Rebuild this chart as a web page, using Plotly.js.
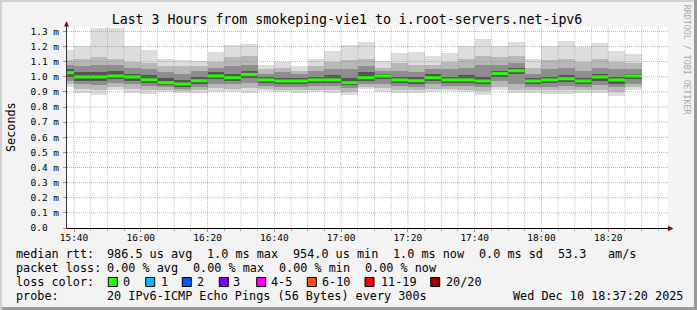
<!DOCTYPE html>
<html><head><meta charset="utf-8">
<script src="https://cdn.plot.ly/plotly-3.0.1.min.js"></script>
<style>html,body{margin:0;padding:0;background:#f3f3f3;}#chart{width:697px;height:310px;}</style>
</head><body><div id="chart"></div>
<script>
// ---- data ----
const DAY = '2025-12-10';
const times = ['15:40','15:45','15:50','15:55','16:00','16:05','16:10','16:15','16:20','16:25','16:30','16:35',
  '16:40','16:45','16:50','16:55','17:00','17:05','17:10','17:15','17:20','17:25','17:30','17:35',
  '17:40','17:45','17:50','17:55','18:00','18:05','18:10','18:15','18:20','18:25','18:30'];
const median = [1.027,0.999,0.999,1.005,0.999,0.980,0.961,0.952,0.974,1.005,0.994,1.016,
  0.979,0.972,0.972,0.979,0.979,0.961,0.994,1.005,0.979,0.974,0.994,0.979,
  0.979,0.972,1.021,1.040,0.972,0.979,0.987,0.972,0.999,0.979,1.005];
const pMax = [1.18,1.206,1.32,1.32,1.206,1.177,1.118,1.111,1.104,1.166,1.21,1.217,
  1.078,1.10,1.07,1.115,1.17,1.21,1.232,1.104,1.155,1.162,1.138,1.16,
  1.204,1.25,1.206,1.232,1.118,1.204,1.239,1.2,1.221,1.17,1.15];
const p90 = [1.11,1.12,1.13,1.12,1.10,1.09,1.07,1.07,1.07,1.10,1.13,1.14,
  1.05,1.06,1.04,1.07,1.10,1.11,1.12,1.06,1.09,1.08,1.08,1.10,
  1.12,1.14,1.13,1.14,1.06,1.11,1.12,1.10,1.12,1.10,1.09];
const p75 = [1.08,1.07,1.08,1.08,1.06,1.05,1.03,1.02,1.04,1.06,1.07,1.08,
  1.02,1.03,1.02,1.04,1.05,1.05,1.07,1.04,1.04,1.03,1.05,1.05,
  1.06,1.08,1.08,1.09,1.02,1.05,1.06,1.04,1.06,1.05,1.05];
const p60 = [1.05,1.03,1.03,1.04,1.02,1.01,0.99,0.98,1.00,1.03,1.02,1.04,
  1.00,0.99,0.99,1.00,1.01,0.99,1.03,1.02,1.00,1.00,1.02,1.00,
  1.01,1.00,1.04,1.06,0.99,1.00,1.01,0.99,1.02,1.00,1.02];
const p40 = [1.00,0.975,0.97,0.985,0.975,0.96,0.945,0.935,0.955,0.985,0.97,0.995,
  0.96,0.955,0.955,0.96,0.96,0.945,0.975,0.985,0.96,0.955,0.975,0.96,
  0.96,0.95,1.00,1.015,0.955,0.96,0.965,0.955,0.975,0.955,0.985];
const p25 = [0.975,0.95,0.945,0.96,0.95,0.94,0.93,0.92,0.935,0.955,0.95,0.96,
  0.94,0.935,0.935,0.94,0.94,0.925,0.955,0.955,0.94,0.935,0.95,0.94,
  0.94,0.93,0.97,0.955,0.935,0.935,0.94,0.935,0.945,0.93,0.955];
const p10 = [0.95,0.92,0.91,0.93,0.92,0.91,0.915,0.905,0.91,0.925,0.92,0.925,
  0.92,0.915,0.915,0.915,0.915,0.90,0.935,0.925,0.915,0.91,0.92,0.92,
  0.915,0.905,0.935,0.915,0.915,0.91,0.91,0.91,0.915,0.90,0.93];
const pMin = [0.93,0.895,0.88,0.91,0.89,0.884,0.90,0.89,0.89,0.90,0.90,0.895,
  0.905,0.90,0.895,0.90,0.895,0.88,0.917,0.90,0.895,0.89,0.90,0.905,
  0.90,0.88,0.91,0.89,0.895,0.885,0.885,0.89,0.89,0.873,0.913];

const xTickText = ['15:40','16:00','16:20','16:40','17:00','17:20','17:40','18:00','18:20'];
const yTickVals = [0,0.1,0.2,0.3,0.4,0.5,0.6,0.7,0.8,0.9,1.0,1.1,1.2,1.3];
const yTickText = ['0.0\u00a0\u00a0','0.1 m','0.2 m','0.3 m','0.4 m','0.5 m','0.6 m','0.7 m','0.8 m','0.9 m','1.0 m','1.1 m','1.2 m','1.3 m'];

const lossLabels = ['0','1','2','3','4-5','6-10','11-19','20/20'];
const lossColors = ['#26ff00','#00b8ff','#0059ff','#7e00ff','#ff00ff','#ff5500','#ff0000','#a10000'];

// ---- build ----
const STEP = 300000;
const toMs = t => Date.parse(DAY + 'T' + t + ':00Z');
const tMs = times.map(toMs);
const centers = tMs.map(t => t - STEP/2);

const layerDefs = [
  {lo:pMin, hi:pMax, color:'#dddddd'},
  {lo:p10, hi:p90, color:'#b8b8b8'},
  {lo:p25, hi:p75, color:'#8e8e8e'},
  {lo:p40, hi:p60, color:'#555555'}
];
const traces = layerDefs.map(l => ({
  type:'bar', x:centers, base:l.lo, y:l.hi.map((h,i)=>h-l.lo[i]),
  width:tMs.map(()=>STEP), marker:{color:l.color, line:{width:0}}, hoverinfo:'skip'
}));
const mx=[], my=[];
tMs.forEach((t,i)=>{ mx.push(t-STEP, t, null); my.push(median[i], median[i], null); });
traces.push({type:'scatter', mode:'lines', x:mx, y:my, line:{color:lossColors[0], width:3}, hoverinfo:'skip', connectgaps:false});

// ---- geometry ----
const W=697, H=310, L=67, R=668, T=27, B=228;
const pw=R-L, ph=B-T;
const px = x => (x-L)/pw;
const py = y => (B-y)/ph;
const xStart = toMs('15:37') + 54000;
const xEnd = xStart + 3*3600000;
const xTickVals = xTickText.map(toMs);

const shapes = [];
const gridMajor = 'rgba(235,90,90,0.6)', gridMinor = 'rgba(140,140,140,0.5)';
yTickVals.filter(v=>v>0).forEach(v=>shapes.push({type:'line',xref:'paper',yref:'y',x0:0,x1:1,y0:v,y1:v,line:{color:gridMajor,width:1,dash:'1px,1px'},layer:'above'}));
for (let t=toMs('15:40'); t<xEnd; t+=STEP){
  const major = xTickVals.includes(t);
  shapes.push({type:'line',xref:'x',yref:'paper',x0:t,x1:t,y0:0,y1:1,line:{color:major?gridMajor:gridMinor,width:1,dash:'1px,1px'},layer:'above'});
}
// axes
shapes.push({type:'line',xref:'paper',yref:'paper',x0:px(66.5),x1:px(670),y0:py(228.5),y1:py(228.5),line:{color:'#000',width:1},layer:'above'});
shapes.push({type:'line',xref:'paper',yref:'paper',x0:px(66.5),x1:px(66.5),y0:py(228.5),y1:py(24),line:{color:'#333',width:1},layer:'above'});
shapes.push({type:'path',xref:'paper',yref:'paper',path:`M ${px(668)},${py(225.8)} L ${px(673.5)},${py(228.5)} L ${px(668)},${py(231.2)} Z`,fillcolor:'#7f1010',line:{width:0},layer:'above'});
shapes.push({type:'path',xref:'paper',yref:'paper',path:`M ${px(64)},${py(26.5)} L ${px(66.5)},${py(21)} L ${px(69)},${py(26.5)} Z`,fillcolor:'#7f1010',line:{width:0},layer:'above'});
// frame shading
shapes.push({type:'rect',xref:'paper',yref:'paper',x0:px(0),x1:px(2),y0:py(0),y1:py(310),fillcolor:'#d0d0d0',line:{width:0}});
shapes.push({type:'rect',xref:'paper',yref:'paper',x0:px(0),x1:px(697),y0:py(0),y1:py(2),fillcolor:'#d0d0d0',line:{width:0}});
shapes.push({type:'rect',xref:'paper',yref:'paper',x0:px(694),x1:px(697),y0:py(0),y1:py(310),fillcolor:'#9a9a9a',line:{width:0}});
shapes.push({type:'rect',xref:'paper',yref:'paper',x0:px(2),x1:px(697),y0:py(307),y1:py(310),fillcolor:'#9a9a9a',line:{width:0}});

// legend boxes and texts
const FS = 11.8;
const ann = [];
const txt = (x,y,text,opt={}) => ann.push(Object.assign({xref:'paper',yref:'paper',x:px(x),y:py(y),text:text,showarrow:false,xanchor:'left',yanchor:'middle',borderpad:0,borderwidth:0,font:{family:'DejaVu Sans Mono',size:FS,color:'#000'}},opt));
txt(16,254.3,'median rtt:');
txt(107.3,254.3,'986.5 us avg');
txt(207.3,254.3,'1.0 ms max');
txt(293.3,254.3,'954.0 us min');
txt(393.3,254.3,'1.0 ms now');
txt(479.3,254.3,'0.0 ms sd');
txt(558.3,254.3,'53.3');
txt(607.7,254.3,'am/s');
txt(16,268.3,'packet loss:');
txt(107.3,268.3,'0.00 % avg');
txt(193.3,268.3,'0.00 % max');
txt(279.3,268.3,'0.00 % min');
txt(365,268.3,'0.00 % now');
txt(16,282.3,'loss color:');
const boxX = [108.3,145.7,182.3,219.3,256.7,307.3,365,430.7];
const lblX = [123.3,160.7,196.7,233.3,270.7,321.7,380.7,445.7];
lossLabels.forEach((lab,i)=>{
  shapes.push({type:'rect',xref:'paper',yref:'paper',x0:px(boxX[i]),x1:px(boxX[i]+9),y0:py(277.5),y1:py(286.5),fillcolor:lossColors[i],line:{color:'#000',width:1}});
  txt(lblX[i],282.3,lab);
});
txt(16,296,'probe:');
txt(107.3,296,'20 IPv6-ICMP Echo Pings (56 Bytes) every 300s');
txt(512.7,296,'Wed Dec 10 18:37:20 2025');
ann.push({xref:'paper',yref:'paper',x:px(10.5),y:py(127.5),text:'Seconds',textangle:-90,showarrow:false,xanchor:'center',yanchor:'middle',font:{family:'DejaVu Sans Mono',size:FS,color:'#000'}});
ann.push({xref:'paper',yref:'paper',x:px(687.3),y:py(60),text:'RRDTOOL / TOBI OETIKER',textangle:90,showarrow:false,xanchor:'center',yanchor:'middle',font:{family:'DejaVu Sans Mono',size:8.3,color:'#a8a8a8'}});

const layout = {
  width:W, height:H, margin:{l:L, r:W-R, t:T, b:H-B, pad:0},
  paper_bgcolor:'#f3f3f3', plot_bgcolor:'#ffffff', showlegend:false,
  barmode:'overlay', bargap:0,
  font:{family:'DejaVu Sans Mono', color:'#000'},
  title:{text:'Last 3 Hours from smokeping-vie1 to i.root-servers.net-ipv6', font:{family:'DejaVu Sans Mono',size:13.25,color:'#000'},
    x:347/W, xref:'container', xanchor:'center', y:1-19/H, yref:'container', yanchor:'middle'},
  xaxis:{type:'date', range:[xStart,xEnd], tickmode:'array', tickvals:xTickVals, ticktext:xTickText,
    ticks:'outside', ticklen:3, tickcolor:'#e07070', tickfont:{family:'DejaVu Sans Mono',size:9.5,color:'#000'},
    ticklabelstandoff:-2,
    showgrid:false, zeroline:false, showline:false, fixedrange:true,
    minor:{dtick:STEP, tick0:toMs('15:40'), ticks:'outside', ticklen:2, tickcolor:'#aaaaaa', showgrid:false}},
  yaxis:{range:[0,1.329], tickmode:'array', tickvals:yTickVals, ticktext:yTickText,
    ticks:'outside', ticklen:3, tickcolor:'#e07070', tickfont:{family:'DejaVu Sans Mono',size:9.5,color:'#000'},
    ticklabelstandoff:2,
    showgrid:false, zeroline:false, showline:false, fixedrange:true},
  shapes:shapes, annotations:ann
};
Plotly.newPlot('chart', traces, layout, {staticPlot:true, displayModeBar:false});
</script></body></html>
